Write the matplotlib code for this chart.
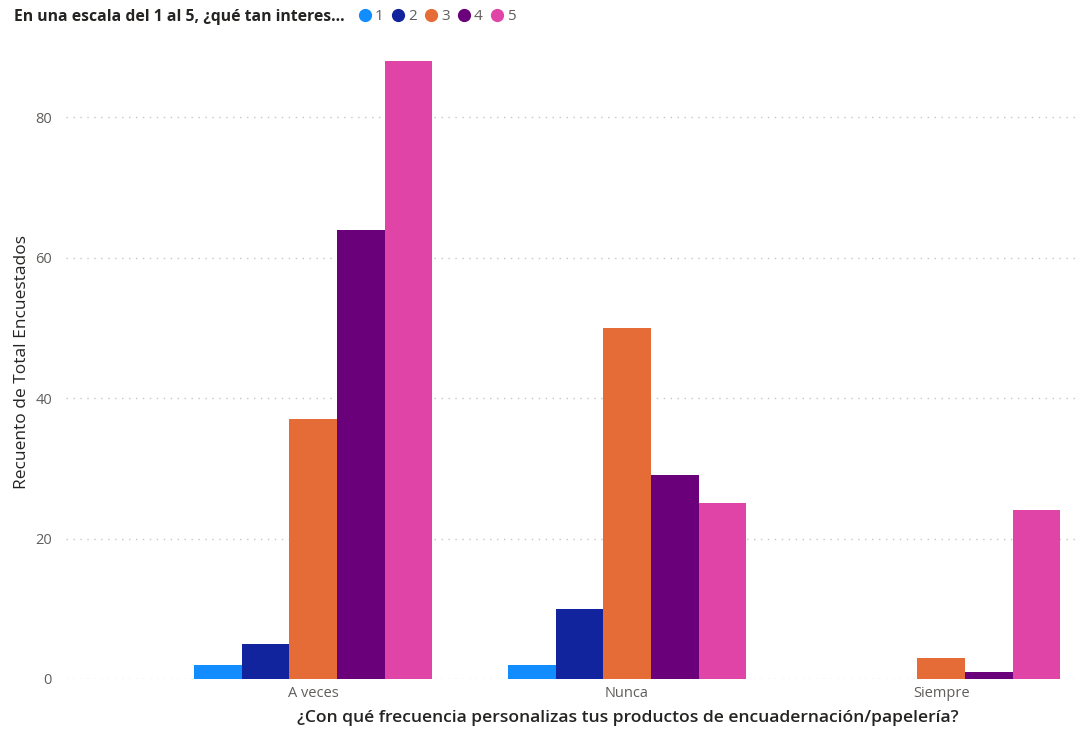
import matplotlib.pyplot as plt
import numpy as np
from matplotlib.lines import Line2D

# data
categories = ["A veces", "Nunca", "Siempre"]
series_names = ["1", "2", "3", "4", "5"]
values_1 = [2, 2, 0]
values_2 = [5, 10, 0]
values_3 = [37, 50, 3]
values_4 = [64, 29, 1]
values_5 = [88, 25, 24]
y_ticks = [0, 20, 40, 60, 80]

series = [values_1, values_2, values_3, values_4, values_5]
colors = ["#118DFF", "#12239E", "#E66C37", "#6B007B", "#E044A7"]

plt.rcParams["font.family"] = ["Open Sans", "DejaVu Sans"]

fig = plt.figure(figsize=(10.81, 7.29), dpi=100)
ax = fig.add_axes([66 / 1081, 1 - 679 / 729, (1078 - 66) / 1081, (679 - 40) / 729])

x = np.arange(len(categories))
width = 0.1516
for i, (vals, col) in enumerate(zip(series, colors)):
    ax.bar(x + (i - 2) * width, vals, width, color=col, zorder=3, linewidth=0)

ax.set_xlim(-0.787, 2.436)
ax.set_ylim(0, 91)
ax.set_yticks(y_ticks)
ax.set_xticks(x)
ax.set_xticklabels(categories)
ax.tick_params(axis="both", length=0, labelsize=10.5, labelcolor="#605E5C")
ax.tick_params(axis="x", pad=5)
ax.tick_params(axis="y", pad=10)
ax.grid(axis="y", linestyle=(0, (1, 4)), color="#C8C6C4", linewidth=1, zorder=0)
for s in ax.spines.values():
    s.set_visible(False)

fig.text(22 / 1081, 1 - 362 / 729, "Recuento de Total Encuestados", rotation=90,
         ha="center", va="center", fontsize=12.5, color="#252423")
fig.text(628 / 1081, 1 - 718 / 729,
         "¿Con qué frecuencia personalizas tus productos de encuadernación/papelería?",
         ha="center", va="center", fontsize=12.6, fontweight="semibold", color="#252423")

# legend with title on the left, as in the reference
fig.text(14 / 1081, 1 - 17 / 729, "En una escala del 1 al 5, ¿qué tan interes...",
         ha="left", va="center", fontsize=11.3, fontweight="bold", color="#252423")
handles = [Line2D([], [], marker="o", linestyle="", markersize=8.5, color=c) for c in colors]
fig.legend(handles, series_names, loc="center left", bbox_to_anchor=(357 / 1081, 1 - 17 / 729),
           ncol=5, frameon=False, fontsize=11, handletextpad=0.15, columnspacing=0.45,
           handlelength=1.0, labelcolor="#605E5C", borderaxespad=0, borderpad=0)

fig.savefig("out.png", dpi=100)
